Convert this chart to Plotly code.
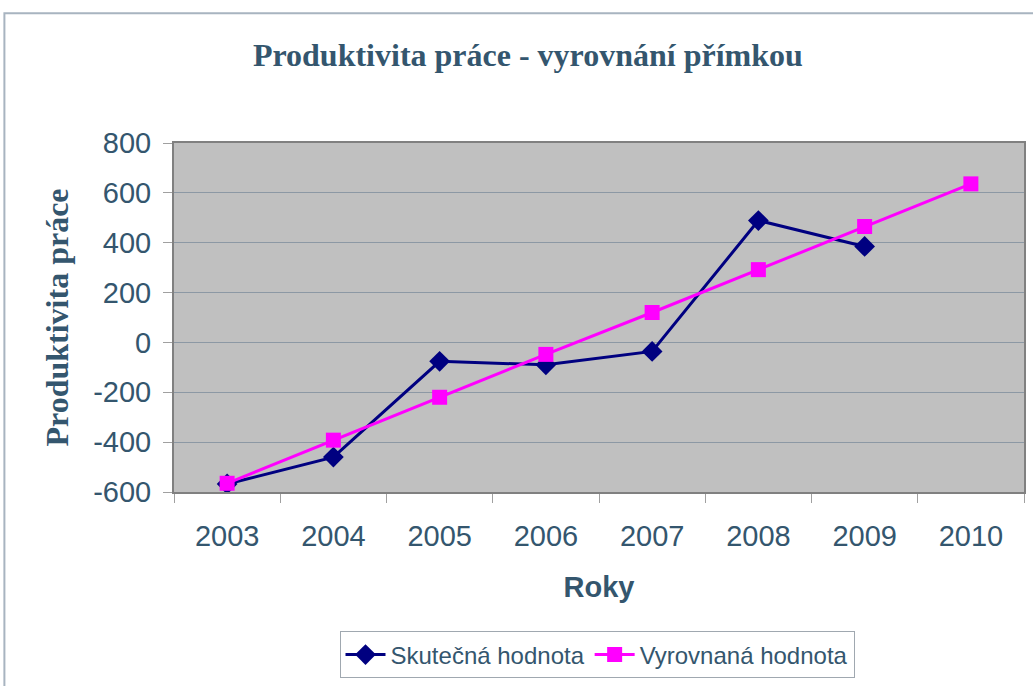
import plotly.graph_objects as go

years = ["2003", "2004", "2005", "2006", "2007", "2008", "2009", "2010"]
skutecna = [-568, -460, -76, -90, -36, 489, 385, None]
vyrovnana = [-565, -392, -220, -48, 120, 292, 465, 636]
y_ticks = [-600, -400, -200, 0, 200, 400, 600, 800]
y_tick_labels = ["-600", "-400", "-200", "0", "200", "400", "600", "800"]

text_color = "#34566E"

fig = go.Figure()
fig.add_trace(go.Scatter(
    x=years, y=skutecna, name="Skutečná hodnota", mode="lines+markers",
    line=dict(color="#000080", width=3),
    marker=dict(symbol="diamond", size=16, color="#000080"),
))
fig.add_trace(go.Scatter(
    x=years, y=vyrovnana, name="Vyrovnaná hodnota", mode="lines+markers",
    line=dict(color="#FF00FF", width=3),
    marker=dict(symbol="square", size=15, color="#FF00FF"),
))

fig.update_layout(
    width=1033, height=686,
    margin=dict(l=174, r=7, t=143, b=193),
    paper_bgcolor="white",
    plot_bgcolor="#C0C0C0",
    title=dict(text="<b>Produktivita práce - vyrovnání přímkou</b>",
               x=0.511, xanchor="center", y=0.92, yanchor="middle",
               font=dict(family="Liberation Serif", size=32, color=text_color)),
    showlegend=True,
    legend=dict(orientation="h", x=(598 - 174) / 852, xanchor="center",
                y=(493 - 680) / 350, yanchor="bottom",
                bordercolor="#A0A8B0", borderwidth=1, bgcolor="white",
                font=dict(family="Liberation Sans", size=24, color=text_color),
                itemwidth=40, tracegroupgap=0),
    xaxis=dict(
        type="category", tickson="boundaries",
        ticks="outside", ticklen=9, tickcolor="#A0A0A0", tickwidth=1,
        ticklabelstandoff=17,
        showgrid=False, showline=True, linecolor="#808080", linewidth=2, mirror=True,
        tickfont=dict(family="Liberation Sans", size=29, color=text_color),
        title=dict(text="<b>Roky</b>", standoff=26,
                   font=dict(family="Liberation Sans", size=29, color=text_color)),
        range=[-0.5, 7.5],
    ),
    yaxis=dict(
        range=[-600, 800], tickvals=y_ticks, ticktext=y_tick_labels,
        ticks="outside", ticklen=9, tickcolor="#A0A0A0", tickwidth=1,
        ticklabelstandoff=6,
        showgrid=True, gridcolor="#8C98A4", gridwidth=1,
        zeroline=False,
        showline=True, linecolor="#808080", linewidth=2, mirror=True,
        tickfont=dict(family="Liberation Sans", size=29, color=text_color),
        title=dict(text="<b>Produktivita práce</b>", standoff=15,
                   font=dict(family="Liberation Serif", size=32, color=text_color)),
    ),
    shapes=[dict(type="rect", xref="paper", yref="paper",
                 x0=(4 - 174) / 852, x1=(1040 - 174) / 852,
                 y0=(193 - 700) / 350, y1=(686 - 13 - 193) / 350,
                 line=dict(color="#A8B4C0", width=2), fillcolor="rgba(0,0,0,0)",
                 layer="below")],
)

fig.write_html("out.html", config={"displayModeBar": False},
               post_script="document.body.style.margin='0';document.body.style.overflow='hidden';")
